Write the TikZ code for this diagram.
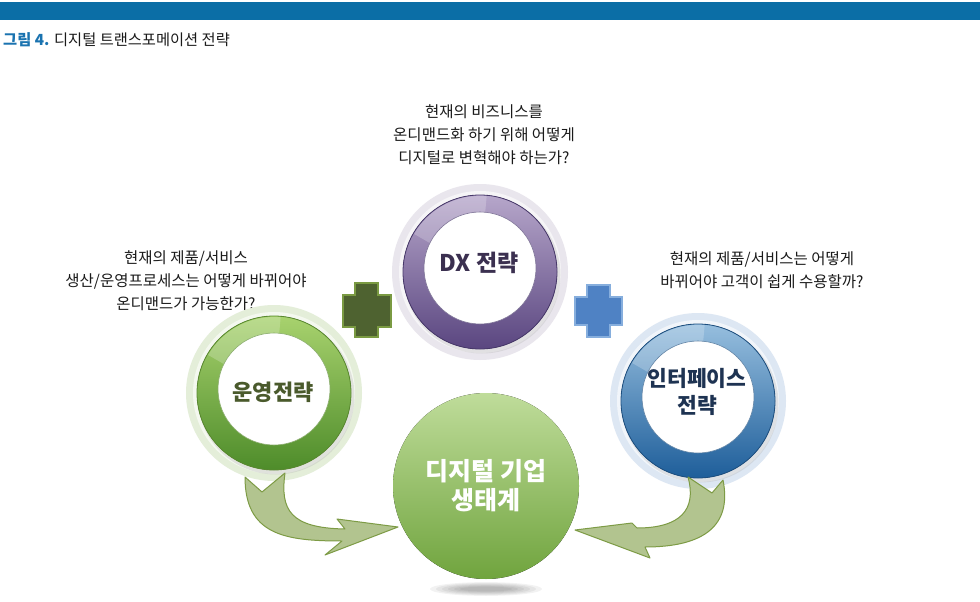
\documentclass[tikz,border=0pt]{standalone}
\usepackage{fontspec}
\setmainfont{Noto Sans CJK KR}
\usetikzlibrary{calc}
\definecolor{barblue}{HTML}{0B6EA6}
\definecolor{titleblue}{HTML}{1A73B0}
\definecolor{txt}{HTML}{1A1A1A}
\definecolor{gHalo}{HTML}{E4EED9}
\definecolor{gTop}{HTML}{A8D26E}
\definecolor{gBot}{HTML}{4E8C2A}
\definecolor{gEdge}{HTML}{5A8A30}
\definecolor{gText}{HTML}{4A5A2C}
\definecolor{pHalo}{HTML}{E9E6ED}
\definecolor{pTop}{HTML}{B6A6CA}
\definecolor{pBot}{HTML}{5A4680}
\definecolor{pEdge}{HTML}{47386A}
\definecolor{pText}{HTML}{3B3050}
\definecolor{bHalo}{HTML}{DDE7F3}
\definecolor{bTop}{HTML}{96BEDE}
\definecolor{bBot}{HTML}{1E5E9A}
\definecolor{bEdge}{HTML}{1D4F80}
\definecolor{bText}{HTML}{1E3352}
\definecolor{cTop}{HTML}{BFDC9A}
\definecolor{cBot}{HTML}{70A43E}
\definecolor{arrFill}{HTML}{B2C48F}
\definecolor{arrEdge}{HTML}{7D9B45}
\definecolor{plusG}{HTML}{4E6230}
\definecolor{plusGe}{HTML}{7A9A42}
\definecolor{plusB}{HTML}{4F82C4}
\definecolor{plusBe}{HTML}{86AEDD}
\newcommand{\drawring}[5]{%
  \fill[#2] (#1) circle (88);
  \fill[white, opacity=0.6] (#1) circle (81);
  \fill[black!30, opacity=0.3] ($(#1)+(2,3)$) circle (78.5);
  \fill[top color=#3, bottom color=#4, draw=#5, line width=0.8] (#1) circle (77);
  \fill[white, opacity=0.22] ($(#1)+(210:76)$) arc[start angle=210,end angle=275,radius=76]
     -- ($(#1)+(275:57)$) arc[start angle=275,end angle=210,radius=57] -- cycle;
  \fill[white, draw=#5!70, line width=0.6] ($(#1)+(0,-4)$) circle (56);
}
\tikzset{
  desc/.style={font=\fontsize{15.5}{23}\selectfont, text=txt, align=center, inner sep=0},
  ringtext/.style={font=\fontsize{22}{27}\selectfont\bfseries, align=center, inner sep=0},
  blockarrow/.style={fill=arrFill, draw=arrEdge, line width=1, line join=round},
}
\begin{document}
\begin{tikzpicture}[x=1pt,y=-1pt]
\useasboundingbox (0,0) rectangle (980,602);
\fill[white] (0,0) rectangle (980,602);
\fill[barblue] (0,2) rectangle (980,20);
\node[anchor=west, inner sep=0, font=\fontsize{15.3}{18}\selectfont, text=txt] (title) at (3,40)
  {\textcolor{titleblue}{\bfseries 그림 4.} 디지털 트랜스포메이션 전략};

% descriptions
\node[desc] (qtop) at (484,135) {현재의 비즈니스를\\온디맨드화 하기 위해 어떻게\\디지털로 변혁해야 하는가?};
\node[desc] (qleft) at (186,281) {현재의 제품/서비스\\생산/운영프로세스는 어떻게 바뀌어야\\온디맨드가 가능한가?};
\node[desc] (qright) at (762,270) {현재의 제품/서비스는 어떻게\\바뀌어야 고객이 쉽게 수용할까?};

% rings
\coordinate (dxc) at (480,272);
\coordinate (opc) at (274,393);
\coordinate (ifc) at (698,401);
\drawring{dxc}{pHalo}{pTop}{pBot}{pEdge}
\drawring{opc}{gHalo}{gTop}{gBot}{gEdge}
\drawring{ifc}{bHalo}{bTop}{bBot}{bEdge}
\node[ringtext, text=pText, font=\fontsize{23}{27}\selectfont\bfseries] (dx) at (479,263) {DX 전략};
\node[ringtext, text=gText] (op) at (273,392) {운영전략};
\node[ringtext, text=bText, font=\fontsize{21.5}{27}\selectfont\bfseries] (if) at (697,392) {인터페이스\\전략};

% plus signs
\filldraw[fill=plusG, draw=plusGe, line width=1.2]
  (355,283) -- (378,283) -- (378,295) -- (391,295) -- (391,327) -- (378,327) -- (378,337)
  -- (355,337) -- (355,327) -- (343,327) -- (343,295) -- (355,295) -- cycle;
\filldraw[fill=plusB, draw=plusBe, line width=1.2]
  (587,285) -- (610,285) -- (610,297) -- (622,297) -- (622,325) -- (610,325) -- (610,337)
  -- (587,337) -- (587,325) -- (575,325) -- (575,297) -- (587,297) -- cycle;

% center circle
\foreach \k in {1,...,6} {
  \fill[black, opacity=0.05] (486,589) ellipse ({20+6*\k} and {1.5+0.9*\k});
}
\fill[top color=cTop, bottom color=cBot] (486,486) circle (93);
\node[font=\fontsize{25}{29}\selectfont\bfseries, text=white, align=center, inner sep=0] (eco) at (486,486) {디지털 기업\\생태계};

% curved block arrows
\draw[blockarrow]
  (245,477) -- (262,492) -- (285,473)
  .. controls (280,510) and (290,528) .. (345,529)
  -- (337,519) -- (398,527) -- (325,555) -- (342,541)
  .. controls (285,541) and (245,535) .. (245,477) -- cycle;
\draw[blockarrow]
  (688,477) -- (712,493) -- (723,480)
  .. controls (732,525) and (705,547) .. (645,547)
  -- (650,558) -- (575,530) -- (632,523) -- (637,528)
  .. controls (680,528) and (697,510) .. (688,477) -- cycle;
\end{tikzpicture}
\end{document}
